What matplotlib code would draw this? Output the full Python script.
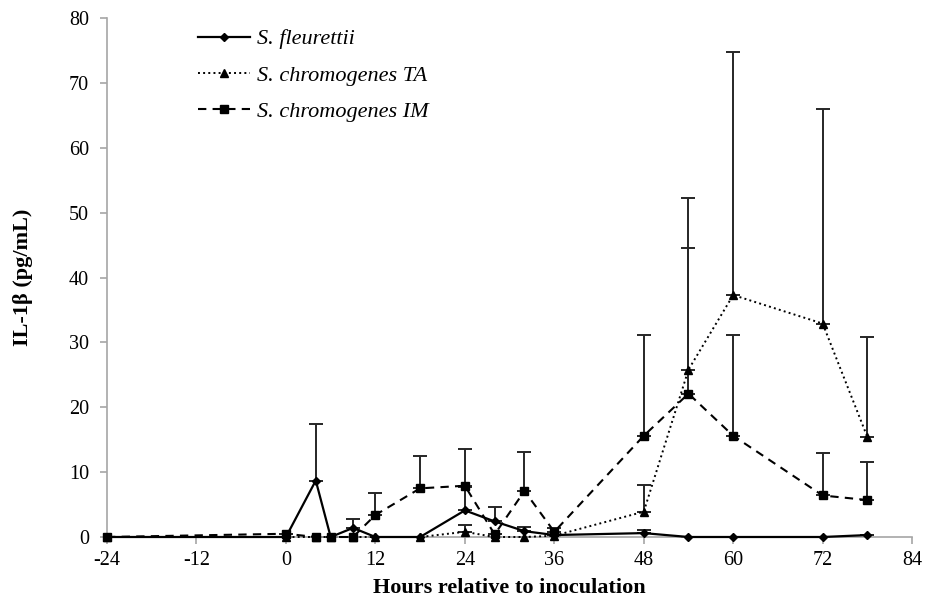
import numpy as np
import matplotlib
matplotlib.use("Agg")
import matplotlib.pyplot as plt

# Stunden relativ zur Inokulation
hours = [-24, 0, 4, 6, 9, 12, 18, 24, 28, 32, 36, 48, 54, 60, 72, 78]

# S. fleurettii
fleu_mean = [0, 0, 8.7, 0, 1.4, 0, 0, 4.1, 2.4, 0.9, 0.3, 0.6, 0, 0, 0, 0.3]
fleu_err = [0, 0, 8.7, 0, 1.4, 0, 0, 3.6, 2.2, 0.6, 0, 0.5, 0, 0, 0, 0]

# S. chromogenes TA
ta_mean = [0, 0, 0, 0, 0, 0, 0, 0.8, 0, 0, 0.2, 3.9, 25.8, 37.3, 32.9, 15.4]
ta_err = [0, 0, 0, 0, 0, 0, 0, 1.0, 0, 0, 0, 4.1, 26.4, 37.5, 33.1, 15.5]

# S. chromogenes IM
im_mean = [0, 0.5, 0, 0, 0, 3.4, 7.5, 7.9, 0.4, 7.1, 0.8, 15.6, 22.1, 15.6, 6.4, 5.7]
im_err = [0, 0, 0, 0, 0, 3.4, 5.0, 5.7, 0, 6.0, 0.6, 15.6, 22.4, 15.6, 6.5, 5.8]

plt.rcParams['font.family'] = ['Liberation Serif', 'DejaVu Serif']
plt.rcParams['axes.unicode_minus'] = False

fig = plt.figure(figsize=(9.26, 6.05), dpi=100)
ax = fig.add_axes([0.1156, 0.1124, 0.8694, 0.8578])

x = np.array(hours)
serien = [
    (fleu_mean, fleu_err, 'D', 4.0, '-', 1.6, 'S. fleurettii'),
    (ta_mean, ta_err, '^', 5.5, ':', 1.4, 'S. chromogenes TA'),
    (im_mean, im_err, 's', 5.5, (0, (4, 3)), 1.5, 'S. chromogenes IM'),
]

handles = []
for mean, err, marker, ms, ls, lw, label in serien:
    mean = np.array(mean)
    err = np.array(err)
    ax.errorbar(x, mean, yerr=[np.zeros_like(err), err], fmt='none',
                ecolor='#262626', elinewidth=1.4, capsize=5, capthick=1.4, zorder=2)
    h, = ax.plot(x, mean, color='black', marker=marker, markersize=ms,
                 linestyle=ls, linewidth=lw, label=label, zorder=3, clip_on=False)
    handles.append(h)

ax.set_xlim(-24, 84)
ax.set_ylim(0, 80)
ax.set_xticks(np.arange(-24, 85, 12))
ax.set_yticks(np.arange(0, 81, 10))

for side in ['top', 'right']:
    ax.spines[side].set_visible(False)
for side in ['left', 'bottom']:
    ax.spines[side].set_color('#a6a6a6')
    ax.spines[side].set_linewidth(1.2)
ax.tick_params(axis='both', colors='#a6a6a6', labelcolor='black', labelsize=14.5,
               length=5, width=1.2, direction='out')
ax.tick_params(axis='y', pad=8)
ax.tick_params(axis='x', pad=5)

ax.set_xlabel("Hours relative to inoculation", fontsize=16, fontweight='bold', labelpad=6)
ax.set_ylabel("IL-1β (pg/mL)", fontsize=16, fontweight='bold')
ax.yaxis.set_label_coords(-0.092, 0.5)

leg = ax.legend(handles=handles, loc='upper left', bbox_to_anchor=(0.204, 0.967),
                bbox_transform=fig.transFigure, borderaxespad=0, frameon=False,
                fontsize=16, handlelength=2.35, handletextpad=0.3, labelspacing=0.7)
for t in leg.get_texts():
    t.set_fontstyle('italic')

fig.savefig("out.png", dpi=100)
